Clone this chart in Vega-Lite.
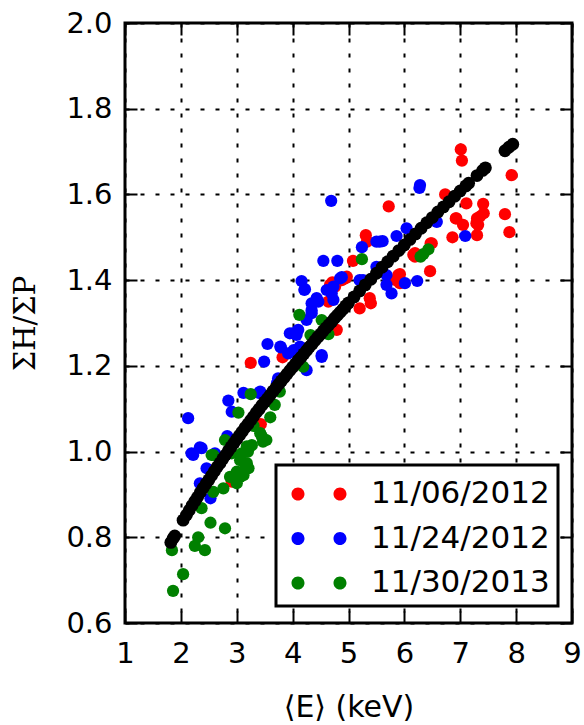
{
  "$schema": "https://vega.github.io/schema/vega-lite/v6.json",
  "width": 447,
  "height": 600,
  "autosize": {"type": "none"},
  "padding": {"left": 125, "top": 23, "right": 12, "bottom": 102},
  "background": "white",
  "config": {
    "view": {"stroke": "black", "strokeWidth": 3},
    "font": "DejaVu Sans"
  },
  "datasets": {
    "obs": [
      {"date": "11/06/2012", "E": 7.01, "R": 1.705},
      {"date": "11/06/2012", "E": 7.03, "R": 1.679},
      {"date": "11/06/2012", "E": 7.92, "R": 1.645},
      {"date": "11/06/2012", "E": 6.73, "R": 1.600},
      {"date": "11/06/2012", "E": 5.72, "R": 1.572},
      {"date": "11/06/2012", "E": 7.11, "R": 1.579},
      {"date": "11/06/2012", "E": 7.41, "R": 1.578},
      {"date": "11/06/2012", "E": 7.42, "R": 1.556},
      {"date": "11/06/2012", "E": 7.30, "R": 1.544},
      {"date": "11/06/2012", "E": 6.92, "R": 1.544},
      {"date": "11/06/2012", "E": 7.05, "R": 1.529},
      {"date": "11/06/2012", "E": 7.32, "R": 1.529},
      {"date": "11/06/2012", "E": 7.80, "R": 1.554},
      {"date": "11/06/2012", "E": 7.88, "R": 1.512},
      {"date": "11/06/2012", "E": 7.30, "R": 1.505},
      {"date": "11/06/2012", "E": 6.86, "R": 1.500},
      {"date": "11/06/2012", "E": 6.47, "R": 1.486},
      {"date": "11/06/2012", "E": 6.46, "R": 1.421},
      {"date": "11/06/2012", "E": 5.92, "R": 1.414},
      {"date": "11/06/2012", "E": 6.16, "R": 1.459},
      {"date": "11/06/2012", "E": 5.31, "R": 1.505},
      {"date": "11/06/2012", "E": 5.33, "R": 1.490},
      {"date": "11/06/2012", "E": 5.08, "R": 1.445},
      {"date": "11/06/2012", "E": 5.89, "R": 1.412},
      {"date": "11/06/2012", "E": 5.92, "R": 1.393},
      {"date": "11/06/2012", "E": 4.94, "R": 1.404},
      {"date": "11/06/2012", "E": 4.67, "R": 1.389},
      {"date": "11/06/2012", "E": 5.38, "R": 1.358},
      {"date": "11/06/2012", "E": 5.40, "R": 1.346},
      {"date": "11/06/2012", "E": 5.20, "R": 1.334},
      {"date": "11/06/2012", "E": 4.97, "R": 1.408},
      {"date": "11/06/2012", "E": 4.71, "R": 1.395},
      {"date": "11/06/2012", "E": 4.76, "R": 1.385},
      {"date": "11/06/2012", "E": 4.64, "R": 1.350},
      {"date": "11/06/2012", "E": 4.79, "R": 1.284},
      {"date": "11/06/2012", "E": 3.82, "R": 1.220},
      {"date": "11/06/2012", "E": 3.25, "R": 1.207},
      {"date": "11/06/2012", "E": 3.43, "R": 1.136},
      {"date": "11/06/2012", "E": 3.43, "R": 1.064},
      {"date": "11/06/2012", "E": 2.91, "R": 0.930},
      {"date": "11/06/2012", "E": 5.85, "R": 1.400},
      {"date": "11/06/2012", "E": 6.19, "R": 1.463},
      {"date": "11/06/2012", "E": 6.49, "R": 1.486},
      {"date": "11/06/2012", "E": 7.35, "R": 1.548},
      {"date": "11/06/2012", "E": 7.29, "R": 1.533},
      {"date": "11/06/2012", "E": 6.93, "R": 1.544},
      {"date": "11/06/2012", "E": 4.88, "R": 1.400},
      {"date": "11/06/2012", "E": 6.19, "R": 1.455},
      {"date": "11/24/2012", "E": 6.28, "R": 1.622},
      {"date": "11/24/2012", "E": 6.27, "R": 1.615},
      {"date": "11/24/2012", "E": 7.09, "R": 1.503},
      {"date": "11/24/2012", "E": 5.61, "R": 1.491},
      {"date": "11/24/2012", "E": 5.86, "R": 1.503},
      {"date": "11/24/2012", "E": 6.04, "R": 1.521},
      {"date": "11/24/2012", "E": 6.58, "R": 1.536},
      {"date": "11/24/2012", "E": 6.23, "R": 1.398},
      {"date": "11/24/2012", "E": 5.68, "R": 1.412},
      {"date": "11/24/2012", "E": 6.01, "R": 1.393},
      {"date": "11/24/2012", "E": 4.69, "R": 1.585},
      {"date": "11/24/2012", "E": 4.55, "R": 1.445},
      {"date": "11/24/2012", "E": 4.80, "R": 1.445},
      {"date": "11/24/2012", "E": 5.24, "R": 1.477},
      {"date": "11/24/2012", "E": 5.56, "R": 1.490},
      {"date": "11/24/2012", "E": 5.50, "R": 1.490},
      {"date": "11/24/2012", "E": 4.16, "R": 1.398},
      {"date": "11/24/2012", "E": 4.22, "R": 1.379},
      {"date": "11/24/2012", "E": 4.88, "R": 1.407},
      {"date": "11/24/2012", "E": 5.20, "R": 1.400},
      {"date": "11/24/2012", "E": 5.68, "R": 1.389},
      {"date": "11/24/2012", "E": 4.43, "R": 1.358},
      {"date": "11/24/2012", "E": 4.73, "R": 1.385},
      {"date": "11/24/2012", "E": 5.77, "R": 1.369},
      {"date": "11/24/2012", "E": 5.50, "R": 1.431},
      {"date": "11/24/2012", "E": 4.46, "R": 1.350},
      {"date": "11/24/2012", "E": 4.34, "R": 1.330},
      {"date": "11/24/2012", "E": 4.70, "R": 1.369},
      {"date": "11/24/2012", "E": 4.85, "R": 1.404},
      {"date": "11/24/2012", "E": 4.25, "R": 1.307},
      {"date": "11/24/2012", "E": 4.10, "R": 1.284},
      {"date": "11/24/2012", "E": 4.07, "R": 1.272},
      {"date": "11/24/2012", "E": 3.55, "R": 1.251},
      {"date": "11/24/2012", "E": 3.79, "R": 1.243},
      {"date": "11/24/2012", "E": 3.49, "R": 1.210},
      {"date": "11/24/2012", "E": 3.92, "R": 1.229},
      {"date": "11/24/2012", "E": 4.13, "R": 1.245},
      {"date": "11/24/2012", "E": 4.52, "R": 1.225},
      {"date": "11/24/2012", "E": 3.95, "R": 1.276},
      {"date": "11/24/2012", "E": 4.02, "R": 1.237},
      {"date": "11/24/2012", "E": 2.13, "R": 1.078},
      {"date": "11/24/2012", "E": 2.85, "R": 1.119},
      {"date": "11/24/2012", "E": 2.91, "R": 1.093},
      {"date": "11/24/2012", "E": 3.12, "R": 1.137},
      {"date": "11/24/2012", "E": 3.40, "R": 1.137},
      {"date": "11/24/2012", "E": 3.74, "R": 1.171},
      {"date": "11/24/2012", "E": 3.72, "R": 1.160},
      {"date": "11/24/2012", "E": 2.83, "R": 1.036},
      {"date": "11/24/2012", "E": 2.34, "R": 1.010},
      {"date": "11/24/2012", "E": 2.19, "R": 0.996},
      {"date": "11/24/2012", "E": 2.22, "R": 0.992},
      {"date": "11/24/2012", "E": 2.37, "R": 1.008},
      {"date": "11/24/2012", "E": 2.61, "R": 0.996},
      {"date": "11/24/2012", "E": 2.46, "R": 0.961},
      {"date": "11/24/2012", "E": 2.55, "R": 0.949},
      {"date": "11/24/2012", "E": 2.34, "R": 0.926},
      {"date": "11/24/2012", "E": 2.53, "R": 0.891},
      {"date": "11/24/2012", "E": 4.25, "R": 1.190},
      {"date": "11/24/2012", "E": 4.52, "R": 1.221},
      {"date": "11/24/2012", "E": 4.01, "R": 1.276},
      {"date": "11/24/2012", "E": 4.34, "R": 1.323},
      {"date": "11/24/2012", "E": 4.61, "R": 1.377},
      {"date": "11/24/2012", "E": 4.73, "R": 1.354},
      {"date": "11/24/2012", "E": 4.34, "R": 1.346},
      {"date": "11/24/2012", "E": 5.26, "R": 1.400},
      {"date": "11/24/2012", "E": 3.42, "R": 1.140},
      {"date": "11/24/2012", "E": 3.78, "R": 1.245},
      {"date": "11/24/2012", "E": 4.21, "R": 1.377},
      {"date": "11/30/2013", "E": 6.34, "R": 1.461},
      {"date": "11/30/2013", "E": 6.43, "R": 1.472},
      {"date": "11/30/2013", "E": 6.29, "R": 1.455},
      {"date": "11/30/2013", "E": 5.24, "R": 1.449},
      {"date": "11/30/2013", "E": 4.12, "R": 1.319},
      {"date": "11/30/2013", "E": 4.52, "R": 1.307},
      {"date": "11/30/2013", "E": 4.32, "R": 1.272},
      {"date": "11/30/2013", "E": 4.64, "R": 1.274},
      {"date": "11/30/2013", "E": 3.25, "R": 1.134},
      {"date": "11/30/2013", "E": 3.68, "R": 1.109},
      {"date": "11/30/2013", "E": 3.03, "R": 1.091},
      {"date": "11/30/2013", "E": 2.79, "R": 1.027},
      {"date": "11/30/2013", "E": 3.45, "R": 1.035},
      {"date": "11/30/2013", "E": 3.53, "R": 1.027},
      {"date": "11/30/2013", "E": 3.27, "R": 1.015},
      {"date": "11/30/2013", "E": 2.58, "R": 0.992},
      {"date": "11/30/2013", "E": 3.09, "R": 0.996},
      {"date": "11/30/2013", "E": 2.55, "R": 0.992},
      {"date": "11/30/2013", "E": 2.91, "R": 0.996},
      {"date": "11/30/2013", "E": 3.18, "R": 0.973},
      {"date": "11/30/2013", "E": 3.06, "R": 0.941},
      {"date": "11/30/2013", "E": 3.00, "R": 0.926},
      {"date": "11/30/2013", "E": 2.76, "R": 0.914},
      {"date": "11/30/2013", "E": 2.37, "R": 0.868},
      {"date": "11/30/2013", "E": 2.53, "R": 0.834},
      {"date": "11/30/2013", "E": 2.79, "R": 0.821},
      {"date": "11/30/2013", "E": 2.31, "R": 0.800},
      {"date": "11/30/2013", "E": 2.25, "R": 0.780},
      {"date": "11/30/2013", "E": 2.43, "R": 0.770},
      {"date": "11/30/2013", "E": 1.84, "R": 0.770},
      {"date": "11/30/2013", "E": 2.04, "R": 0.714},
      {"date": "11/30/2013", "E": 1.86, "R": 0.675},
      {"date": "11/30/2013", "E": 3.00, "R": 0.953},
      {"date": "11/30/2013", "E": 3.21, "R": 0.961},
      {"date": "11/30/2013", "E": 4.19, "R": 1.198},
      {"date": "11/30/2013", "E": 3.77, "R": 1.140},
      {"date": "11/30/2013", "E": 3.42, "R": 1.043},
      {"date": "11/30/2013", "E": 3.47, "R": 1.023},
      {"date": "11/30/2013", "E": 3.18, "R": 1.012},
      {"date": "11/30/2013", "E": 3.06, "R": 0.980},
      {"date": "11/30/2013", "E": 3.15, "R": 0.969},
      {"date": "11/30/2013", "E": 2.88, "R": 0.941},
      {"date": "11/30/2013", "E": 3.12, "R": 0.945},
      {"date": "11/30/2013", "E": 2.58, "R": 0.906},
      {"date": "11/30/2013", "E": 3.60, "R": 1.080},
      {"date": "11/30/2013", "E": 3.30, "R": 1.060},
      {"date": "11/30/2013", "E": 3.20, "R": 1.000}
    ],
    "model": [
      {"E": 1.82, "R": 0.788}, {"E": 1.86, "R": 0.797}, {"E": 1.89, "R": 0.803},
      {"E": 2.04, "R": 0.840}, {"E": 2.10, "R": 0.852}, {"E": 2.15, "R": 0.863},
      {"E": 2.20, "R": 0.874}, {"E": 2.25, "R": 0.884}, {"E": 2.30, "R": 0.894},
      {"E": 2.35, "R": 0.905}, {"E": 2.40, "R": 0.915}, {"E": 2.45, "R": 0.925},
      {"E": 2.50, "R": 0.934}, {"E": 2.55, "R": 0.944}, {"E": 2.60, "R": 0.954},
      {"E": 2.65, "R": 0.964}, {"E": 2.70, "R": 0.973}, {"E": 2.75, "R": 0.983},
      {"E": 2.80, "R": 0.992}, {"E": 2.85, "R": 1.002}, {"E": 2.90, "R": 1.011},
      {"E": 2.95, "R": 1.020}, {"E": 3.00, "R": 1.029}, {"E": 3.05, "R": 1.038},
      {"E": 3.10, "R": 1.047}, {"E": 3.15, "R": 1.056}, {"E": 3.20, "R": 1.064},
      {"E": 3.25, "R": 1.073}, {"E": 3.30, "R": 1.082}, {"E": 3.35, "R": 1.091},
      {"E": 3.40, "R": 1.099}, {"E": 3.45, "R": 1.108}, {"E": 3.50, "R": 1.116},
      {"E": 3.55, "R": 1.124}, {"E": 3.60, "R": 1.132}, {"E": 3.65, "R": 1.141},
      {"E": 3.70, "R": 1.149}, {"E": 3.75, "R": 1.157}, {"E": 3.80, "R": 1.165},
      {"E": 3.85, "R": 1.173}, {"E": 3.90, "R": 1.181}, {"E": 3.95, "R": 1.189},
      {"E": 4.00, "R": 1.197}, {"E": 4.05, "R": 1.205}, {"E": 4.10, "R": 1.213},
      {"E": 4.15, "R": 1.220}, {"E": 4.20, "R": 1.228}, {"E": 4.25, "R": 1.236},
      {"E": 4.30, "R": 1.244}, {"E": 4.35, "R": 1.251}, {"E": 4.40, "R": 1.259},
      {"E": 4.45, "R": 1.267}, {"E": 4.50, "R": 1.274}, {"E": 4.55, "R": 1.282},
      {"E": 4.60, "R": 1.289}, {"E": 4.65, "R": 1.296}, {"E": 4.70, "R": 1.303},
      {"E": 4.75, "R": 1.311}, {"E": 4.80, "R": 1.318}, {"E": 4.85, "R": 1.325},
      {"E": 4.90, "R": 1.332}, {"E": 4.95, "R": 1.340}, {"E": 5.00, "R": 1.347},
      {"E": 5.10, "R": 1.361}, {"E": 5.20, "R": 1.375}, {"E": 5.30, "R": 1.389},
      {"E": 5.40, "R": 1.402}, {"E": 5.50, "R": 1.416}, {"E": 5.60, "R": 1.430},
      {"E": 5.70, "R": 1.443}, {"E": 5.80, "R": 1.456}, {"E": 5.90, "R": 1.469},
      {"E": 6.00, "R": 1.482}, {"E": 6.10, "R": 1.495}, {"E": 6.20, "R": 1.508},
      {"E": 6.30, "R": 1.521}, {"E": 6.40, "R": 1.534}, {"E": 6.50, "R": 1.546},
      {"E": 6.60, "R": 1.559}, {"E": 6.70, "R": 1.571}, {"E": 6.80, "R": 1.583},
      {"E": 6.90, "R": 1.596}, {"E": 7.00, "R": 1.608}, {"E": 7.10, "R": 1.620},
      {"E": 7.15, "R": 1.626}, {"E": 7.30, "R": 1.644}, {"E": 7.40, "R": 1.656},
      {"E": 7.45, "R": 1.662}, {"E": 7.80, "R": 1.702}, {"E": 7.87, "R": 1.710},
      {"E": 7.94, "R": 1.717}
    ]
  },
  "layer": [
    {
      "data": {"name": "obs"},
      "mark": {"type": "point", "filled": true, "size": 150, "opacity": 1, "strokeWidth": 0, "shape": "circle"},
      "encoding": {
        "x": {
          "field": "E", "type": "quantitative",
          "scale": {"domain": [1, 9], "nice": false, "zero": false},
          "axis": {
            "title": "⟨E⟩ (keV)", "values": [1, 2, 3, 4, 5, 6, 7, 8, 9], "format": "d",
            "grid": true, "gridColor": "black", "gridDash": [4, 11], "gridWidth": 2, "gridOpacity": 1,
            "domain": false, "ticks": true, "tickSize": -12, "tickWidth": 2, "tickColor": "black",
            "labelFontSize": 29, "labelColor": "black", "labelPadding": 28, "labelFlush": false, "labelOverlap": false,
            "titleFontSize": 30, "titleFontWeight": "normal", "titleColor": "black",
            "titleX": 223.5, "titleY": 93, "titleBaseline": "alphabetic", "titleAlign": "center"
          }
        },
        "y": {
          "field": "R", "type": "quantitative",
          "scale": {"domain": [0.6, 2.0], "nice": false, "zero": false},
          "axis": {
            "title": "ΣH/ΣP", "values": [0.6, 0.8, 1.0, 1.2, 1.4, 1.6, 1.8, 2.0], "format": ".1f",
            "grid": true, "gridColor": "black", "gridDash": [4, 11], "gridWidth": 2, "gridOpacity": 1,
            "domain": false, "ticks": true, "tickSize": -12, "tickWidth": 2, "tickColor": "black",
            "labelFontSize": 29, "labelColor": "black", "labelPadding": 25, "labelFlush": false, "labelOverlap": false,
            "titleFont": "DejaVu Serif", "titleFontSize": 29, "titleFontWeight": "normal", "titleColor": "black",
            "titleX": -100, "titleY": 300, "titleAngle": -90, "titleBaseline": "middle", "titleAlign": "center"
          }
        },
        "color": {
          "field": "date", "type": "nominal",
          "scale": {"domain": ["11/06/2012", "11/24/2012", "11/30/2013"], "range": ["#ff0000", "#0000ff", "#008000"]},
          "legend": {
            "title": null, "orient": "none", "legendX": 151, "legendY": 442, "direction": "vertical",
            "strokeColor": "black", "fillColor": "white", "padding": 8,
            "symbolType": "M -1.31 0 A 0.31 0.31 0 1 0 -0.69 0 A 0.31 0.31 0 1 0 -1.31 0 Z M 0.69 0 A 0.31 0.31 0 1 0 1.31 0 A 0.31 0.31 0 1 0 0.69 0 Z",
            "symbolSize": 1764, "symbolOffset": 14, "symbolStrokeWidth": 0, "symbolOpacity": 1,
            "labelFontSize": 31, "labelColor": "black", "labelOffset": 31, "labelLimit": 400, "rowPadding": 8.5,
            "labelFont": "DejaVu Sans",
            "encode": {"legend": {"update": {"strokeWidth": {"value": 3}}}}
          }
        }
      }
    },
    {
      "data": {"name": "model"},
      "mark": {"type": "point", "filled": true, "size": 165, "opacity": 1, "strokeWidth": 0, "color": "black", "shape": "circle"},
      "encoding": {
        "x": {
          "field": "E", "type": "quantitative",
          "axis": {
            "orient": "top", "title": null, "labels": false, "grid": false, "domain": false,
            "values": [1, 2, 3, 4, 5, 6, 7, 8, 9],
            "ticks": true, "tickSize": -12, "tickWidth": 2, "tickColor": "black"
          }
        },
        "y": {
          "field": "R", "type": "quantitative",
          "axis": {
            "orient": "right", "title": null, "labels": false, "grid": false, "domain": false,
            "values": [0.6, 0.8, 1.0, 1.2, 1.4, 1.6, 1.8, 2.0],
            "ticks": true, "tickSize": -12, "tickWidth": 2, "tickColor": "black"
          }
        }
      }
    }
  ],
  "resolve": {"axis": {"x": "independent", "y": "independent"}}
}
